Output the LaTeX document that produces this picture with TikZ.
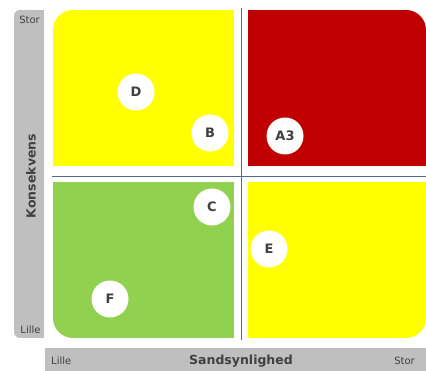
\documentclass[tikz,border=0pt]{standalone}
\usepackage{fontspec}
\setmainfont{DejaVu Sans}
\definecolor{qyellow}{HTML}{FFFF00}
\definecolor{qred}{HTML}{C00000}
\definecolor{qgreen}{HTML}{92D050}
\definecolor{qgray}{HTML}{BFBFBF}
\definecolor{qtext}{HTML}{404040}
\definecolor{qline}{HTML}{4F6B8F}
\begin{document}
\begin{tikzpicture}[x=1pt,y=-1pt,
  risk/.style={circle,fill=white,minimum size=37pt,inner sep=0pt,font=\fontsize{13}{13}\selectfont\bfseries,text=qtext},
  axlbl/.style={font=\fontsize{10}{10}\selectfont,text=qtext,inner sep=0pt},
  axtitle/.style={font=\fontsize{12.5}{12.5}\selectfont\bfseries,text=qtext,inner sep=0pt}]
\useasboundingbox (0,0) rectangle (426,371);
% left gray bar
\fill[qgray,rounded corners=6pt] (14,10) -- (44,10) -- (44,338) -- (14,338) -- cycle;
\fill[qgray] (30,10) rectangle (44,338);
% bottom gray bar
\fill[qgray] (45,348) rectangle (426,371);
% quadrants
\fill[qyellow] (53,30) rectangle (234,166);
\fill[qyellow] (73,10) rectangle (234,166);
\fill[qyellow] (73,30) circle (20pt);
\fill[qred] (248,10) rectangle (406,166);
\fill[qred] (248,30) rectangle (426,166);
\fill[qred] (406,30) circle (20pt);
\fill[qgreen] (53,182) rectangle (234,318);
\fill[qgreen] (73,182) rectangle (234,338);
\fill[qgreen] (73,318) circle (20pt);
\fill[qyellow] (248,182) rectangle (426,318);
\fill[qyellow] (248,182) rectangle (406,338);
\fill[qyellow] (406,318) circle (20pt);
% axes lines
\coordinate (vt) at (241,8);
\coordinate (vb) at (241,340);
\coordinate (hl) at (52,176);
\coordinate (hr) at (426,176);
\draw[qline,line width=0.8pt] (vt) -- (vb);
\draw[qline,line width=0.8pt] (hl) -- (hr);
% risk circles
\node[risk] (D) at (136,92) {D};
\node[risk] (B) at (210,133) {B};
\node[risk] (A3) at (285,136) {A3};
\node[risk] (C) at (212,207) {C};
\node[risk] (E) at (269,249) {E};
\node[risk] (F) at (110,299) {F};
% labels
\node[axlbl,anchor=north] (ystor) at (29.5,16) {Stor};
\node[axlbl,anchor=south] (ylille) at (30.5,334) {Lille};
\node[axtitle,rotate=90] (ytitle) at (31,176) {Konsekvens};
\node[axlbl,anchor=west] (xlille) at (51,361) {Lille};
\node[axtitle] (xtitle) at (241,361) {Sandsynlighed};
\node[axlbl,anchor=east] (xstor) at (415,361) {Stor};
\end{tikzpicture}
\end{document}
